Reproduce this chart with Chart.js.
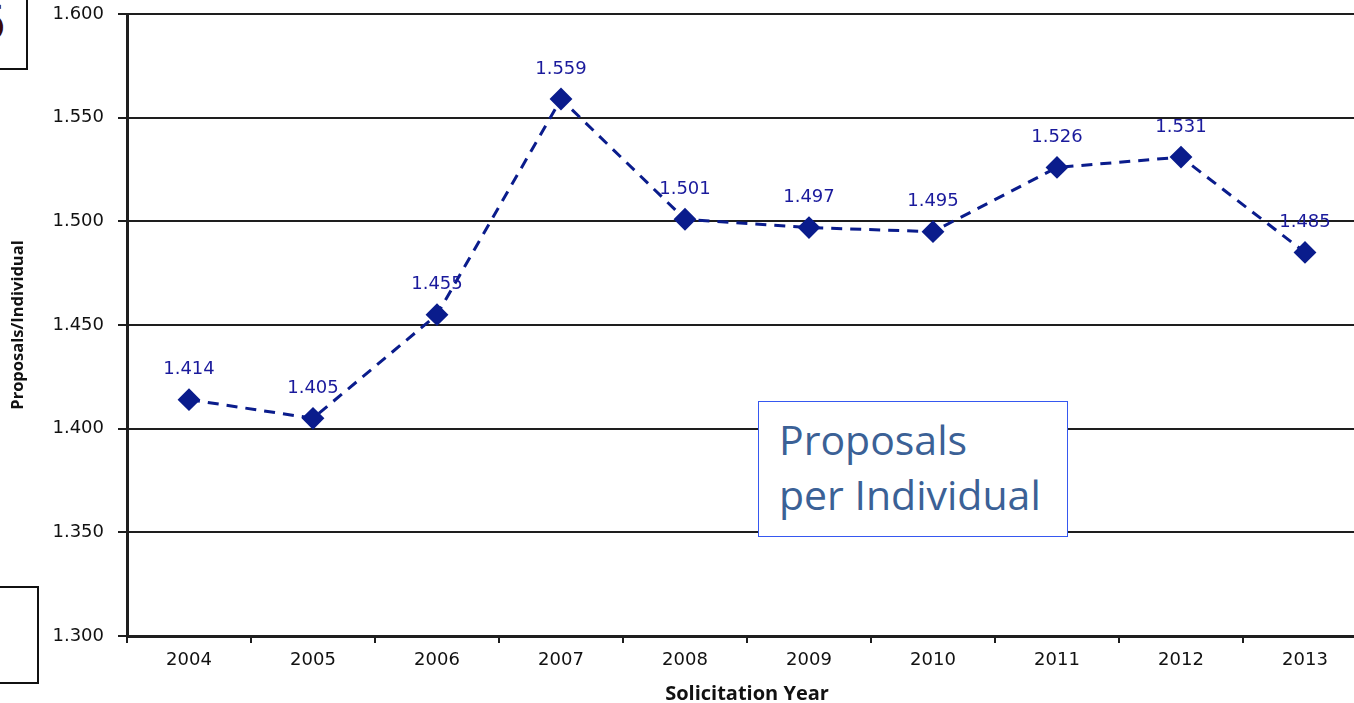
<!DOCTYPE html>
<html>
<head>
<meta charset="utf-8">
<script src="https://cdn.jsdelivr.net/npm/chart.js@4.4.1/dist/chart.umd.min.js"></script>
<style>
  html, body { margin: 0; padding: 0; background: #fff; overflow: hidden; }
  #chart { position: absolute; left: 0; top: 0; }
  .slideBox { position: absolute; border: 2px solid #111; background: #fff; box-sizing: border-box; overflow: hidden; }
  #boxTop { left: -20px; top: -10px; width: 48px; height: 80px; }
  #boxTop span { position: absolute; right: 20px; top: 2px; font: 48px "DejaVu Sans", sans-serif; color: #3a0808; }
  #boxBottom { left: -10px; top: 586px; width: 49px; height: 98px; }
  #note {
    position: absolute; left: 758px; top: 401px; width: 310px; height: 136px;
    box-sizing: border-box; border: 1.5px solid #3658f0; background: #fff;
    padding: 10px 0 0 20px;
    font: 41px/55px "Open Sans", sans-serif; color: #3b6196;
  }
</style>
</head>
<body>
<!-- wider than the window on purpose: the last category is cut off at the right edge -->
<canvas id="chart" width="1379" height="703"></canvas>
<div class="slideBox" id="boxTop"><span>6</span></div>
<div class="slideBox" id="boxBottom"></div>
<div id="note">Proposals<br>per Individual</div>

<script>
/* ================================================================
   DATA
================================================================ */
const YEARS  = ['2004','2005','2006','2007','2008','2009','2010','2011','2012','2013'];
const RATIOS = [1.414, 1.405, 1.455, 1.559, 1.501, 1.497, 1.495, 1.526, 1.531, 1.485];
const Y_MIN = 1.300, Y_MAX = 1.600, Y_STEP = 0.05;

const X_TITLE = 'Solicitation Year';
const Y_TITLE = 'Proposals/Individual';

const NAVY  = '#0a1c8c';
const INK   = '#1e1e1e';
const FONT  = '"DejaVu Sans", sans-serif';

/* ── value labels above each point ── */
const valueLabels = {
  id: 'valueLabels',
  afterDatasetsDraw(chart) {
    const ctx  = chart.ctx;
    const meta = chart.getDatasetMeta(0);
    ctx.save();
    ctx.font = '18px ' + FONT;
    ctx.fillStyle = '#1a1a9c';
    ctx.textAlign = 'center';
    ctx.textBaseline = 'middle';
    meta.data.forEach((pt, i) => {
      ctx.fillText(RATIOS[i].toFixed(3), pt.x, pt.y - 30);
    });
    ctx.restore();
  }
};

/* ── axis titles ── */
const axisTitles = {
  id: 'axisTitles',
  afterDraw(chart) {
    const ctx = chart.ctx, a = chart.chartArea;
    ctx.save();
    ctx.fillStyle = '#111';
    ctx.textAlign = 'center';
    ctx.textBaseline = 'middle';
    ctx.font = 'bold 20px "Open Sans", sans-serif';
    ctx.fillText(X_TITLE, (a.left + a.right) / 2, 694);
    ctx.translate(18, (a.top + a.bottom) / 2);
    ctx.rotate(-Math.PI / 2);
    ctx.font = 'bold 16.5px "Open Sans", sans-serif';
    ctx.fillText(Y_TITLE, 0, 0);
    ctx.restore();
  }
};

new Chart(document.getElementById('chart'), {
  type: 'line',
  data: {
    labels: YEARS,
    datasets: [{
      data: RATIOS,
      borderColor: NAVY,
      borderWidth: 3,
      borderDash: [11, 8],
      tension: 0,
      fill: false,
      pointStyle: 'rectRot',
      pointRadius: 10,
      pointBackgroundColor: NAVY,
      pointBorderColor: NAVY,
      pointBorderWidth: 2
    }]
  },
  options: {
    responsive: false,
    animation: false,
    layout: { padding: { top: 14, left: 0, right: 0, bottom: 0 } },
    plugins: { legend: { display: false }, tooltip: { enabled: false } },
    scales: {
      x: {
        offset: true,
        afterFit: s => { s.height = 67; s.paddingLeft = 0; s.paddingRight = 0; },
        grid: { offset: true, drawOnChartArea: false, drawTicks: true, tickLength: 7, color: INK, lineWidth: 2 },
        border: { display: true, color: INK, width: 3 },
        ticks: { color: '#111', font: { family: FONT, size: 18 }, padding: 7, maxRotation: 0 }
      },
      y: {
        min: Y_MIN, max: Y_MAX,
        afterFit: s => { s.width = 127; s.paddingTop = 0; s.paddingBottom = 0; },
        grid: { color: INK, lineWidth: 2, drawTicks: true, tickLength: 9 },
        border: { display: true, color: INK, width: 3 },
        ticks: {
          stepSize: Y_STEP,
          color: '#111',
          font: { family: FONT, size: 18 },
          padding: 14,
          callback: v => v.toFixed(3)
        }
      }
    }
  },
  plugins: [valueLabels, axisTitles]
});
</script>
</body>
</html>
